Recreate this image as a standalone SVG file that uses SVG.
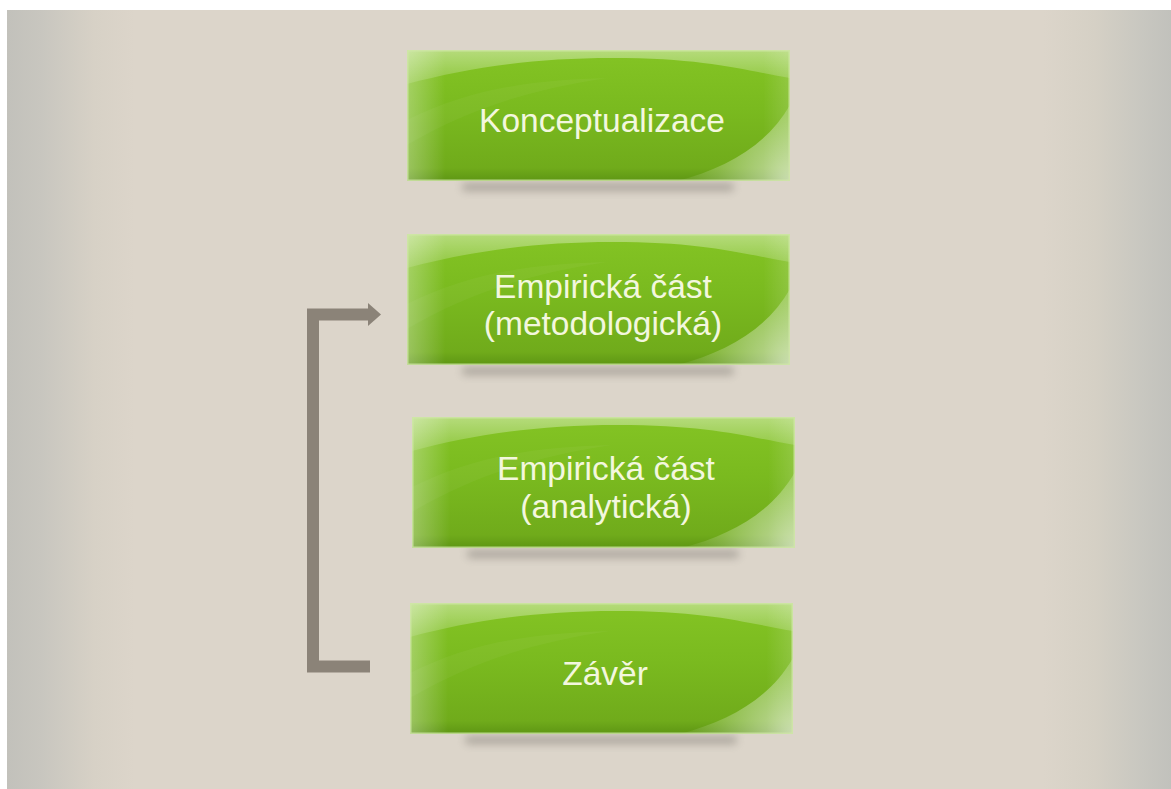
<svg xmlns="http://www.w3.org/2000/svg" width="1171" height="789" viewBox="0 0 1171 789">
<defs>
<style>
.lbl{font-family:"Liberation Sans",Arial,sans-serif;font-size:33.5px;fill:#f3f7de;text-anchor:middle}
.conn{fill:none;stroke:#8b8378;stroke-width:12;stroke-linejoin:miter;stroke-linecap:butt}
</style>
<linearGradient id="bg" x1="7" y1="0" x2="1171" y2="0" gradientUnits="userSpaceOnUse">
<stop offset="0" stop-color="#c2c1bb"/>
<stop offset="0.03" stop-color="#c8c6bf"/>
<stop offset="0.075" stop-color="#d7d1c6"/>
<stop offset="0.11" stop-color="#dcd5ca"/>
<stop offset="0.89" stop-color="#dcd5ca"/>
<stop offset="0.935" stop-color="#d5d0c5"/>
<stop offset="0.975" stop-color="#c8c7c0"/>
<stop offset="1" stop-color="#c1c1bc"/>
</linearGradient>
<linearGradient id="body" x1="0" y1="0" x2="0" y2="1">
<stop offset="0" stop-color="#84c424"/>
<stop offset="0.45" stop-color="#7aba1f"/>
<stop offset="0.9" stop-color="#70ab1b"/>
<stop offset="1" stop-color="#5e9614"/>
</linearGradient>
<linearGradient id="leftHi" x1="0" y1="0" x2="1" y2="0">
<stop offset="0" stop-color="#ffffff" stop-opacity="0.3"/>
<stop offset="0.1" stop-color="#ffffff" stop-opacity="0"/>
<stop offset="0.93" stop-color="#ffffff" stop-opacity="0"/>
<stop offset="1" stop-color="#ffffff" stop-opacity="0.15"/>
</linearGradient>
<linearGradient id="topHi" x1="0" y1="0" x2="0" y2="1">
<stop offset="0" stop-color="#ffffff" stop-opacity="0.4"/>
<stop offset="1" stop-color="#ffffff" stop-opacity="0.12"/>
</linearGradient>
<radialGradient id="cornerHi" cx="383" cy="131" r="120" gradientUnits="userSpaceOnUse">
<stop offset="0" stop-color="#ffffff" stop-opacity="0.6"/>
<stop offset="0.6" stop-color="#ffffff" stop-opacity="0.2"/>
<stop offset="1" stop-color="#ffffff" stop-opacity="0"/>
</radialGradient>
<filter id="blur" x="-20%" y="-200%" width="140%" height="500%">
<feGaussianBlur stdDeviation="4"/>
</filter>
<clipPath id="boxClip"><rect x="0" y="0" width="383" height="131"/></clipPath>
<g id="box">
<rect x="55" y="133" width="272" height="8" rx="4" fill="#6f6a63" opacity="0.45" filter="url(#blur)"/>
<g clip-path="url(#boxClip)">
<rect x="0" y="0" width="383" height="131" fill="url(#body)"/>
<path d="M0,0 H383 V28 C335,20 300,8 205,8 C125,8 60,18 0,34 Z" fill="url(#topHi)"/>
<path d="M0,70 C60,40 120,30 200,28 C120,40 60,60 0,95 Z" fill="#ffffff" opacity="0.04"/>
<rect x="0" y="0" width="383" height="131" fill="url(#leftHi)"/>
<path d="M383,55 C360,95 320,118 270,131 H383 Z" fill="url(#cornerHi)"/>
</g>
<rect x="0.75" y="0.75" width="381.5" height="129.5" fill="none" stroke="#cfe6a8" stroke-opacity="0.8" stroke-width="1.5"/>
</g>
</defs>

<rect x="0" y="0" width="1171" height="789" fill="#ffffff"/>
<rect x="7" y="10" width="1164" height="779" fill="url(#bg)"/>

<g id="connectors">
<path class="conn" d="M370,666.5 H313 V314.5 H369"/>
<polygon points="368,303 381,314.5 368,326" fill="#8b8378"/>
</g>

<g id="node-konceptualizace">
<use href="#box" x="407" y="50"/>
<text class="lbl" x="602" y="132">Konceptualizace</text>
</g>

<g id="node-empiricka-metodologicka">
<use href="#box" x="407" y="234"/>
<text class="lbl" x="603" y="298">Empirická část</text>
<text class="lbl" x="603" y="335">(metodologická)</text>
</g>

<g id="node-empiricka-analyticka">
<use href="#box" x="412" y="417"/>
<text class="lbl" x="606" y="480">Empirická část</text>
<text class="lbl" x="606" y="518">(analytická)</text>
</g>

<g id="node-zaver">
<use href="#box" x="410" y="603"/>
<text class="lbl" x="605" y="685">Závěr</text>
</g>
</svg>
